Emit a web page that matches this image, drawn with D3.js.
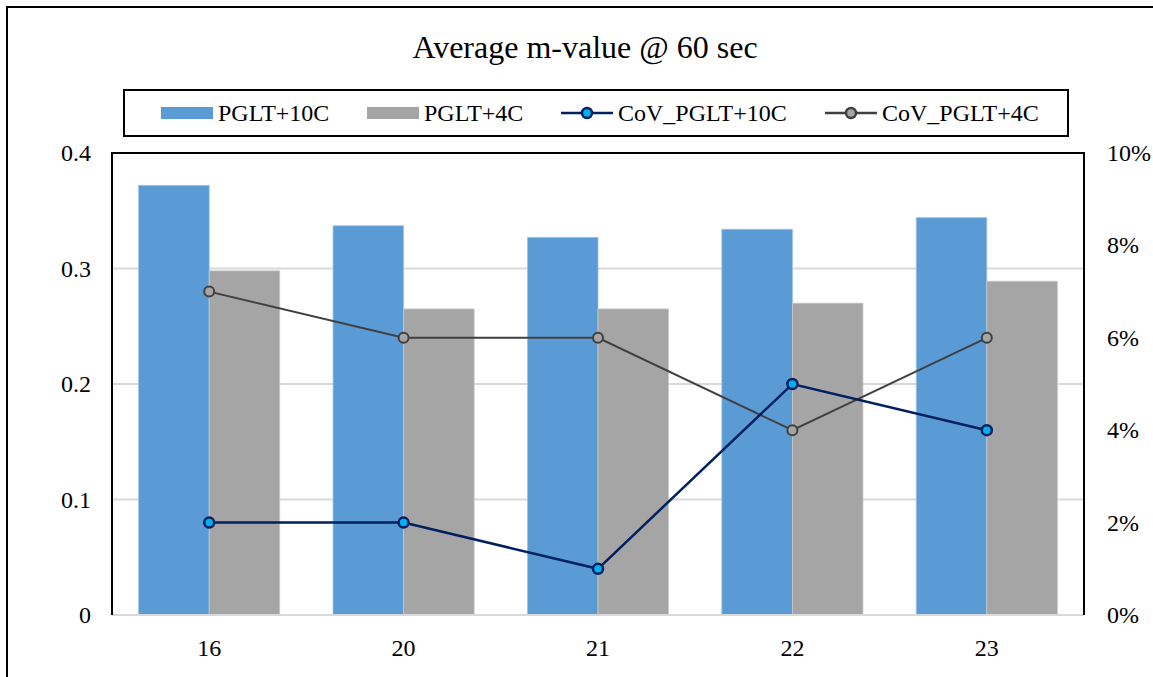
<!DOCTYPE html>
<meta charset="utf-8">
<style>
body { margin: 0; background: #fff; }
</style>
<body>
<script src="https://d3js.org/d3.v7.min.js"></script>
<script>

var categories = ["16", "20", "21", "22", "23"];
var pglt10 = [0.372, 0.337, 0.327, 0.334, 0.344];
var pglt4 = [0.298, 0.265, 0.265, 0.270, 0.289];
var cov10 = [0.02, 0.02, 0.01, 0.05, 0.04];
var cov4 = [0.07, 0.06, 0.06, 0.04, 0.06];
var leftTicks = [0, 0.1, 0.2, 0.3, 0.4];
var rightTicks = [0, 0.02, 0.04, 0.06, 0.08, 0.10];

var W = 1153, H = 677;
var margin = {top: 153, right: 69, bottom: 62, left: 112},
    width = W - margin.left - margin.right,
    height = H - margin.top - margin.bottom;
var serif = "Liberation Serif, DejaVu Serif, serif";

var svg = d3.select("body").append("svg")
    .attr("width", W)
    .attr("height", H)
    .style("font-family", serif);

// outer chart border
svg.append("rect")
    .attr("x", 7).attr("y", 7)
    .attr("width", W + 10).attr("height", H + 10)
    .attr("fill", "none").attr("stroke", "#000").attr("stroke-width", 2);

svg.append("text")
    .attr("x", 585).attr("y", 58)
    .attr("text-anchor", "middle")
    .style("font-size", "32px")
    .text("Average m-value @ 60 sec");

var g = svg.append("g")
    .attr("transform", "translate(" + margin.left + "," + margin.top + ")");

var x = d3.scaleBand()
    .domain(categories)
    .range([0, width])
    .paddingInner(0.274)
    .paddingOuter(0.137);

var y = d3.scaleLinear().domain([0, 0.4]).range([height, 0]);
var y2 = d3.scaleLinear().domain([0, 0.10]).range([height, 0]);

// gridlines
g.selectAll(".grid")
  .data(leftTicks.slice(1, 4))
  .enter().append("line")
    .attr("x1", 0).attr("x2", width)
    .attr("y1", function(d) { return y(d); })
    .attr("y2", function(d) { return y(d); })
    .attr("stroke", "#d9d9d9").attr("stroke-width", 2);

var bw = x.bandwidth() / 2;

g.selectAll(".bar10")
  .data(pglt10)
  .enter().append("rect")
    .attr("x", function(d, i) { return x(categories[i]); })
    .attr("y", function(d) { return y(d); })
    .attr("width", bw)
    .attr("height", function(d) { return height - y(d); })
    .attr("fill", "#5b9bd5")
    .attr("stroke", "#9dc3e6").attr("stroke-width", 0.8);

g.selectAll(".bar4")
  .data(pglt4)
  .enter().append("rect")
    .attr("x", function(d, i) { return x(categories[i]) + bw; })
    .attr("y", function(d) { return y(d); })
    .attr("width", bw)
    .attr("height", function(d) { return height - y(d); })
    .attr("fill", "#a5a5a5")
    .attr("stroke", "#c9c9c9").attr("stroke-width", 0.8);

// bottom axis line (gray) and frame (black)
g.append("line")
    .attr("x1", 0).attr("x2", width)
    .attr("y1", height).attr("y2", height)
    .attr("stroke", "#d9d9d9").attr("stroke-width", 2);
g.append("path")
    .attr("d", "M0," + height + "V0H" + width + "V" + height)
    .attr("fill", "none").attr("stroke", "#000").attr("stroke-width", 2);

function cx(i) { return x(categories[i]) + x.bandwidth() / 2; }

var line = d3.line()
    .x(function(d, i) { return cx(i); })
    .y(function(d) { return y2(d); });

g.append("path").datum(cov4)
    .attr("d", line)
    .attr("fill", "none").attr("stroke", "#404040").attr("stroke-width", 2);
g.selectAll(".m4")
  .data(cov4)
  .enter().append("circle")
    .attr("cx", function(d, i) { return cx(i); })
    .attr("cy", function(d) { return y2(d); })
    .attr("r", 5)
    .attr("fill", "#a5a5a5").attr("stroke", "#404040").attr("stroke-width", 2);

g.append("path").datum(cov10)
    .attr("d", line)
    .attr("fill", "none").attr("stroke", "#002060").attr("stroke-width", 2.5);
g.selectAll(".m10")
  .data(cov10)
  .enter().append("circle")
    .attr("cx", function(d, i) { return cx(i); })
    .attr("cy", function(d) { return y2(d); })
    .attr("r", 5)
    .attr("fill", "#00b0f0").attr("stroke", "#002060").attr("stroke-width", 2.5);

// tick labels
g.selectAll(".ly")
  .data(leftTicks)
  .enter().append("text")
    .attr("x", -21)
    .attr("y", function(d) { return y(d) + 8; })
    .attr("text-anchor", "end")
    .style("font-size", "24px")
    .text(function(d) { return d === 0 ? "0" : d3.format(".1f")(d); });

g.selectAll(".ry")
  .data(rightTicks)
  .enter().append("text")
    .attr("x", width + 23)
    .attr("y", function(d) { return y2(d) + 8; })
    .attr("text-anchor", "start")
    .style("font-size", "24px")
    .text(function(d) { return d3.format(".0%")(d); });

g.selectAll(".xl")
  .data(categories)
  .enter().append("text")
    .attr("x", function(d, i) { return cx(i); })
    .attr("y", height + 41)
    .attr("text-anchor", "middle")
    .style("font-size", "24px")
    .text(function(d) { return d; });

// legend
svg.append("rect")
    .attr("x", 124).attr("y", 90)
    .attr("width", 944).attr("height", 46)
    .attr("fill", "#fff").attr("stroke", "#000").attr("stroke-width", 2);

var legendItems = [
  {name: "PGLT+10C", type: "bar", fill: "#5b9bd5", x: 161},
  {name: "PGLT+4C", type: "bar", fill: "#a5a5a5", x: 367},
  {name: "CoV_PGLT+10C", type: "line", fill: "#00b0f0", stroke: "#002060", x: 561},
  {name: "CoV_PGLT+4C", type: "line", fill: "#a5a5a5", stroke: "#404040", x: 825}
];

var lg = svg.selectAll(".leg")
  .data(legendItems)
  .enter().append("g")
    .attr("transform", function(d) { return "translate(" + d.x + ",113)"; });

lg.filter(function(d) { return d.type === "bar"; })
  .append("rect")
    .attr("x", 0).attr("y", -6)
    .attr("width", 52).attr("height", 12)
    .attr("fill", function(d) { return d.fill; });

var ll = lg.filter(function(d) { return d.type === "line"; });
ll.append("line")
    .attr("x1", 0).attr("x2", 52).attr("y1", 0).attr("y2", 0)
    .attr("stroke", function(d) { return d.stroke; }).attr("stroke-width", 2.5);
ll.append("circle")
    .attr("cx", 26).attr("cy", 0).attr("r", 5)
    .attr("fill", function(d) { return d.fill; })
    .attr("stroke", function(d) { return d.stroke; }).attr("stroke-width", 2.5);

lg.append("text")
    .attr("x", 57).attr("y", 8)
    .style("font-size", "24px")
    .text(function(d) { return d.name; });

</script>
</body>
